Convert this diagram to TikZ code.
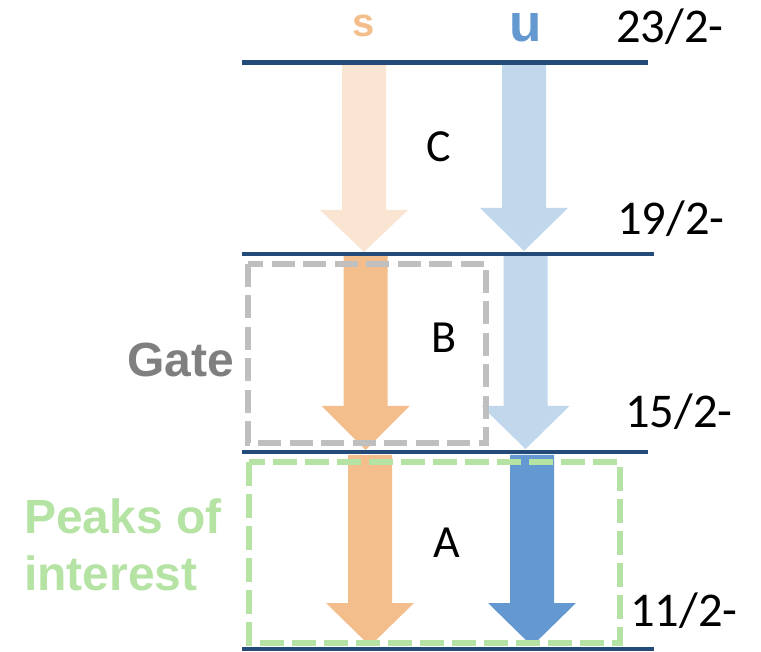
\documentclass[tikz,border=0pt]{standalone}
\usepackage{fontspec}
\setmainfont{Carlito}
\newfontfamily\headsans{Liberation Sans}

\definecolor{levelblue}{HTML}{244B78}
\definecolor{sfaint}{HTML}{FAE5D3}
\definecolor{sstrong}{HTML}{F4BE8C}
\definecolor{ufaint}{HTML}{C0D7EC}
\definecolor{ustrong}{HTML}{6398D0}
\definecolor{gategray}{HTML}{BFBFBF}
\definecolor{gatetext}{HTML}{7F7F7F}
\definecolor{peakgreen}{HTML}{B5E3A4}

% block arrow: colour, centre x, top y, head start y, tip y
\newcommand\blockarrow[5]{%
  \fill[#1] (#2-22,#3) -- (#2+22,#3) -- (#2+22,#4) -- (#2+44,#4)
    -- (#2,#5) -- (#2-44,#4) -- (#2-22,#4) -- cycle;}

\begin{document}
\begin{tikzpicture}[x=1pt,y=-1pt,
  level/.style={draw=levelblue, line width=4.5pt},
  spinlabel/.style={font=\fontsize{48.5}{52}\selectfont, inner sep=0pt, anchor=base west},
  branch/.style={font=\fontsize{46}{50}\selectfont, inner sep=0pt},
  gatebox/.style={draw=gategray, line width=5.5pt, dash pattern=on 23pt off 8.5pt},
  peakbox/.style={draw=peakgreen, line width=6pt, dash pattern=on 24pt off 8pt},
  sidelabel/.style={font=\headsans\bfseries\fontsize{48}{57}\selectfont, inner sep=0pt}]
\useasboundingbox (0,0) rectangle (761,652);

% transitions of the s band
\blockarrow{sfaint}{364}{65}{210}{252}
\blockarrow{sstrong}{365.5}{254}{406}{450}
\blockarrow{sstrong}{370}{455}{603}{646}
% transitions of the u band
\blockarrow{ufaint}{524}{65}{208}{251}
\blockarrow{ufaint}{525.5}{254}{406}{449}
\blockarrow{ustrong}{532}{455}{603}{646}

% levels
\coordinate (l1w) at (242,62.5);  \coordinate (l1e) at (648,62.5);
\coordinate (l2w) at (242,254);   \coordinate (l2e) at (654,254);
\coordinate (l3w) at (242,452);   \coordinate (l3e) at (648,452);
\coordinate (l4w) at (242,649);   \coordinate (l4e) at (654,649);
\draw[level] (l1w) -- (l1e);
\draw[level] (l2w) -- (l2e);
\draw[level] (l3w) -- (l3e);
\draw[level] (l4w) -- (l4e);

% spin labels
\node[spinlabel] (j23) at (616,43) {23/2-};
\node[spinlabel] (j19) at (617,235) {19/2-};
\node[spinlabel] (j15) at (625,428) {15/2-};
\node[spinlabel] (j11) at (630,626) {11/2-};

% band names
\node[inner sep=0pt, text=sstrong, font=\headsans\bfseries\fontsize{40}{44}\selectfont] (sband) at (364,25.5) {s};
\node[inner sep=0pt, text=ustrong, font=\headsans\bfseries\fontsize{53}{56}\selectfont] (uband) at (526,28) {u};

% transition names
\node[branch] (tc) at (439,147) {C};
\node[branch] (tb) at (444,338) {B};
\node[branch] (ta) at (447,543) {A};

% gate and peaks of interest
\draw[gatebox] (248,264) rectangle (486,443);
\draw[peakbox] (249,462) rectangle (620,643);
\node[sidelabel, text=gatetext, anchor=east] (gate) at (234,360) {Gate};
\node[sidelabel, text=peakgreen, anchor=west, align=left] (peaks) at (24,545) {Peaks of\\interest};
\end{tikzpicture}
\end{document}
